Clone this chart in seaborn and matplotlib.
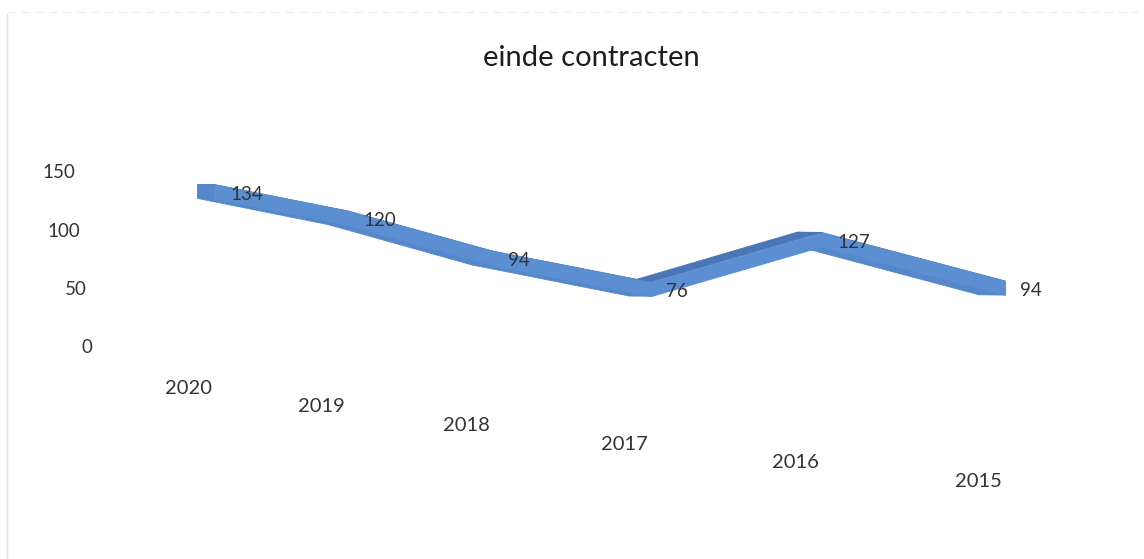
import numpy as np
import pandas as pd
import matplotlib
matplotlib.use("Agg")
import matplotlib.pyplot as plt
from matplotlib.transforms import Affine2D
from matplotlib.lines import Line2D
import seaborn as sns

# --- data -------------------------------------------------------------
years = ["2020", "2019", "2018", "2017", "2016", "2015"]
counts = [134, 120, 94, 76, 127, 94]
y_ticks = [0, 50, 100, 150]
chart_title = "einde contracten"

# --- style ------------------------------------------------------------
sns.set_theme(style="white")
plt.rcParams["font.family"] = ["Lato", "DejaVu Sans"]
TEXT = "#333333"
FRONT = "#5b8fd2"
TOP = "#4a76b6"
UNDER = "#5587cb"

fig = plt.figure(figsize=(11.44, 5.59), dpi=100)
ax = fig.add_axes([105 / 1144, 39 / 559, 1005 / 1144, 420 / 559])

pos = np.arange(len(years), dtype=float)
vals = np.asarray(counts, dtype=float)

# perspective-like depth: the floor recedes as categories move left
depth_k = 8.5          # value units dropped per category along the floor
label_k = 16.0         # floor front edge slope for the category labels
ribbon_tr = Affine2D.from_values(1, -depth_k, 0, 1, 0, 0) + ax.transData
label_tr = Affine2D.from_values(1, -label_k, 0, 1, 0, 0) + ax.transData

half_h = 6.0           # half height of the ribbon front face
dx, dy = -0.14, -1.0   # offset of the ribbon back edge

top = vals + half_h
bot = vals - half_h

# top and bottom faces of the 3-D ribbon, one quad per segment
for j in range(len(pos) - 1):
    xs = [pos[j], pos[j + 1], pos[j + 1] + dx, pos[j] + dx]
    ax.fill(xs, [top[j], top[j + 1], top[j + 1] + dy, top[j] + dy],
            color=TOP, lw=0.6, transform=ribbon_tr, zorder=2)
    ax.fill(xs, [bot[j], bot[j + 1], bot[j + 1] + dy, bot[j] + dy],
            color=UNDER, lw=0.6, transform=ribbon_tr, zorder=2)

# end caps
for j in (0, len(pos) - 1):
    ax.fill([pos[j], pos[j], pos[j] + dx, pos[j] + dx],
            [top[j], bot[j], bot[j] + dy, top[j] + dy],
            color=UNDER, lw=0.6, transform=ribbon_tr, zorder=2)

# front face of the ribbon
ax.fill_between(pos, bot, top, color=FRONT, lw=0.6, edgecolor=FRONT,
                transform=ribbon_tr, zorder=3)
df = pd.DataFrame({"pos": pos, "value": vals})
sns.lineplot(data=df, x="pos", y="value", ax=ax, color=FRONT, lw=2,
             transform=ribbon_tr, zorder=3)

# value labels
for p, v in zip(pos, counts):
    ax.annotate(str(v), xy=(p, v), xycoords=ribbon_tr, xytext=(11, -2),
                textcoords="offset points", ha="left", va="center",
                fontsize=13.5, color=TEXT, zorder=5)

# category labels along the receding floor edge
for p, yr in zip(pos, years):
    ax.annotate(yr, xy=(p, -34.3), xycoords=label_tr, xytext=(-19, 0),
                textcoords="offset points", ha="center", va="center",
                fontsize=14.5, color=TEXT)

# value axis labels, slanted with the back wall
for v in y_ticks:
    ax.annotate(str(v), xy=(0, v), xycoords=("axes fraction", "data"),
                xytext=(-(13 + 0.114 * v) / 1.389, 0), textcoords="offset points",
                ha="right", va="center", fontsize=13.5, color=TEXT)

# mild perspective widening of the category spacing
c = 0.05
fwd = lambda x: x + c * np.asarray(x) ** 2
inv = lambda y: (-1 + np.sqrt(np.maximum(1 + 4 * c * np.asarray(y), 0))) / (2 * c)
ax.set_xscale("function", functions=(fwd, inv))
ax.set_xlim(inv(-0.870), inv(7.081))
ax.set_ylim(-147.4, 212.5)

ax.set_xticks([])
ax.set_yticks([])
ax.set_xlabel("")
ax.set_ylabel("")
for s in ax.spines.values():
    s.set_visible(False)
ax.set_facecolor("none")

fig.text(591 / 1144, 1 - 58 / 559, chart_title, ha="center", va="center",
         fontsize=21, color="#1e1e1e")

# chart frame edge
fig.add_artist(Line2D([0.006, 0.006], [0.0, 0.975], transform=fig.transFigure,
                      color="#e2e2e2", lw=1))
fig.add_artist(Line2D([0.006, 0.995], [0.978, 0.978], transform=fig.transFigure,
                      color="#eeeeee", lw=1, ls=(0, (6, 4))))

fig.savefig("out.png", dpi=100, facecolor="white")
